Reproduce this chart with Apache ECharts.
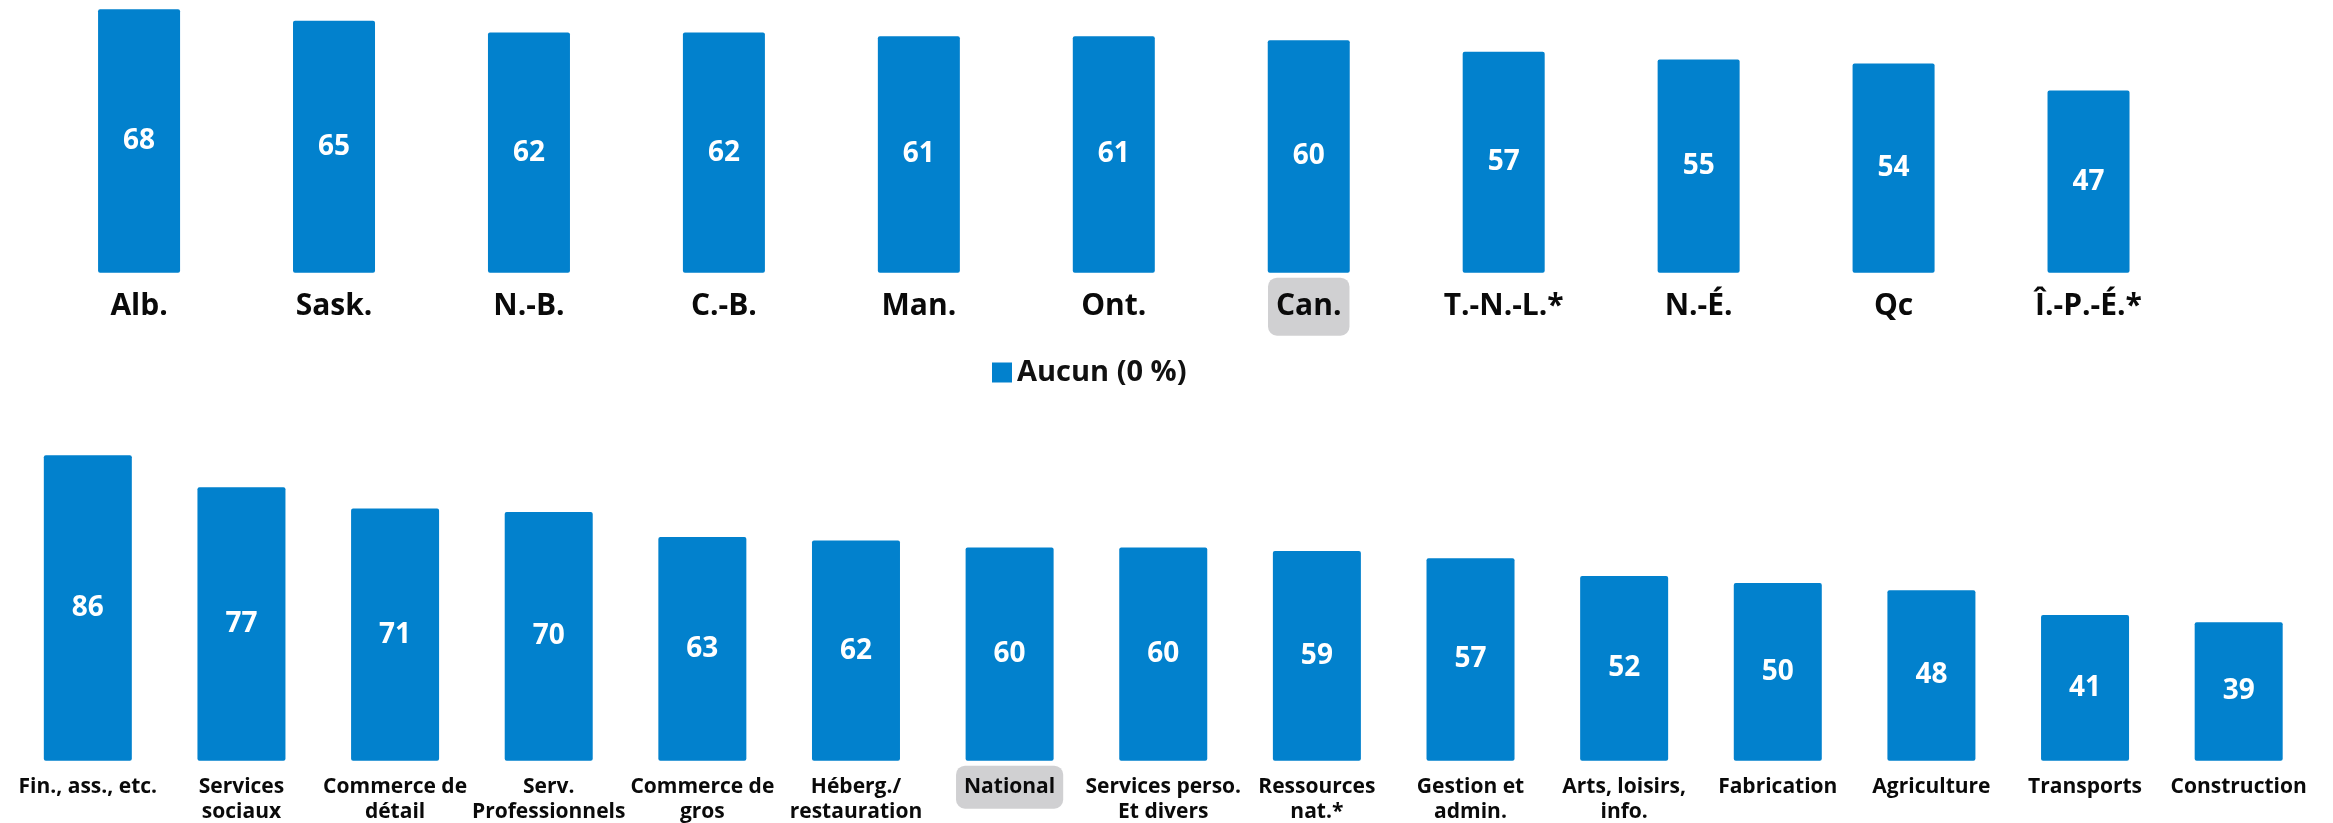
<!DOCTYPE html>
<html>
<head>
<meta charset="utf-8">
<script src="https://cdn.jsdelivr.net/npm/echarts@6/dist/echarts.min.js"></script>
<style>
html,body{margin:0;padding:0;background:#fff;}
#chart{width:2333px;height:823px;}
</style>
</head>
<body>
<div id="chart"></div>
<script>
const seriesName = 'Aucun (0 %)';
const provinceCategories = ['Alb.', 'Sask.', 'N.-B.', 'C.-B.', 'Man.', 'Ont.', 'Can.', 'T.-N.-L.*', 'N.-É.', 'Qc', 'Î.-P.-É.*'];
const provinceValues = [68, 65, 62, 62, 61, 61, 60, 57, 55, 54, 47];
const sectorCategories = ['Fin., ass., etc.', 'Services\nsociaux', 'Commerce de\ndétail', 'Serv.\nProfessionnels', 'Commerce de\ngros', 'Héberg./\nrestauration', 'National', 'Services perso.\nEt divers', 'Ressources\nnat.*', 'Gestion et\nadmin.', 'Arts, loisirs,\ninfo.', 'Fabrication', 'Agriculture', 'Transports', 'Construction'];
const sectorValues = [86, 77, 71, 70, 63, 62, 60, 60, 59, 57, 52, 50, 48, 41, 39];
const highlighted = ['Can.', 'National'];

const FONT = '"Open Sans", "Noto Sans", sans-serif';
const BLUE = '#0281CD';
const HL = '#D0D0D2';

function catData(list) {
  return list.map(c => highlighted.includes(c)
    ? { value: c, textStyle: { backgroundColor: HL, borderRadius: 9 } }
    : c);
}

const chart = echarts.init(document.getElementById('chart'), null, { renderer: 'canvas' });
chart.setOption({
  backgroundColor: '#ffffff',
  animation: false,
  legend: {
    data: [seriesName],
    left: 992,
    top: 358,
    padding: 0,
    itemWidth: 20,
    itemHeight: 20,
    itemGap: 10,
    icon: 'rect',
    textStyle: { fontFamily: FONT, fontWeight: 'bold', fontSize: 29, color: '#111' }
  },
  grid: [
    { left: 41.6, right: 147, top: 1.4, bottom: 550.3, outerBoundsMode: 'none', containLabel: false },
    { left: 11, right: 17.5, top: 441, bottom: 62.3, outerBoundsMode: 'none', containLabel: false }
  ],
  xAxis: [
    {
      gridIndex: 0, type: 'category', data: catData(provinceCategories),
      axisLine: { show: false }, axisTick: { show: false },
      axisLabel: { interval: 0, margin: 5, padding: [12, 8], lineHeight: 34,
        fontFamily: FONT, fontWeight: 'bold', fontSize: 30, color: '#0a0a0a' }
    },
    {
      gridIndex: 1, type: 'category', data: catData(sectorCategories),
      axisLine: { show: false }, axisTick: { show: false },
      axisLabel: { interval: 0, margin: 5, padding: [9, 8], lineHeight: 25,
        fontFamily: FONT, fontWeight: 'bold', fontSize: 21, color: '#0a0a0a' }
    }
  ],
  yAxis: [
    { gridIndex: 0, type: 'value', min: 0, max: 70, show: false },
    { gridIndex: 1, type: 'value', min: 0, max: 90, show: false }
  ],
  series: [
    {
      name: seriesName, type: 'bar', xAxisIndex: 0, yAxisIndex: 0,
      data: provinceValues, barWidth: 82,
      itemStyle: { color: BLUE, borderRadius: 2 },
      label: { show: true, position: 'inside', color: '#fff', fontFamily: FONT, fontWeight: 'bold', fontSize: 28 }
    },
    {
      name: seriesName, type: 'bar', xAxisIndex: 1, yAxisIndex: 1,
      data: sectorValues, barWidth: 88,
      itemStyle: { color: BLUE, borderRadius: 2 },
      label: { show: true, position: 'inside', color: '#fff', fontFamily: FONT, fontWeight: 'bold', fontSize: 28 }
    }
  ]
});
</script>
</body>
</html>
